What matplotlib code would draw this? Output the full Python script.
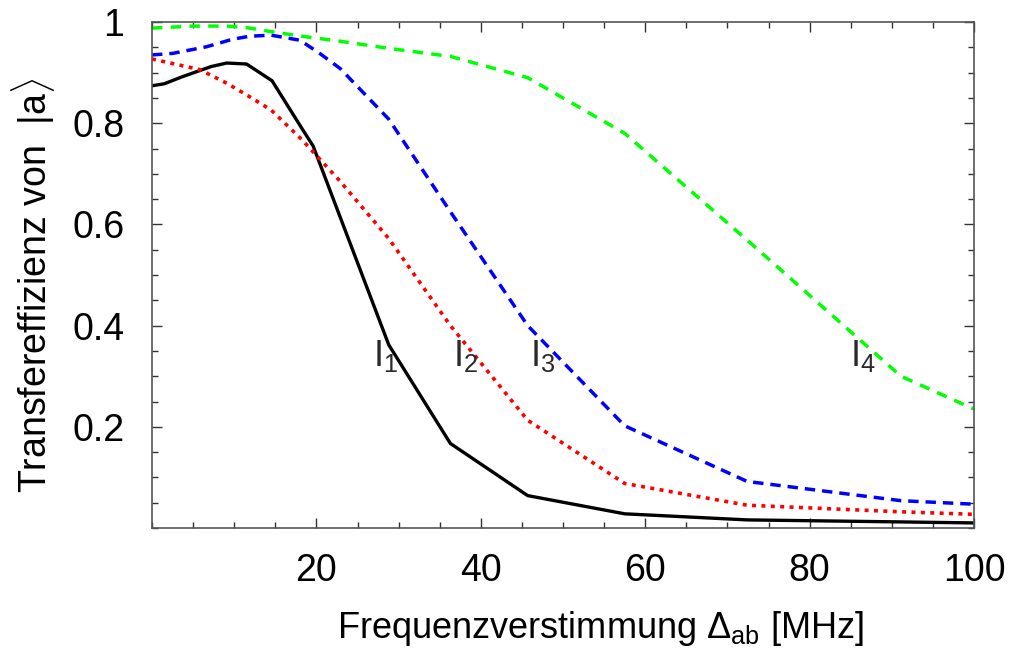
import matplotlib
matplotlib.use("Agg")
import matplotlib.pyplot as plt
from matplotlib.ticker import MultipleLocator, FixedLocator

plt.rcParams["font.family"] = ["Liberation Sans", "DejaVu Sans"]
plt.rcParams["mathtext.fontset"] = "custom"
plt.rcParams["mathtext.rm"] = "Liberation Sans"

# detuning samples [MHz]
x_i1 = [0, 1.5, 3.7, 7.2, 9.1, 11.5, 14.6, 18.3, 19.6, 28.8, 36.3, 45.7, 57.5, 72.4, 91.1, 100]
y_i1 = [0.874, 0.878, 0.892, 0.912, 0.919, 0.917, 0.884, 0.788, 0.755, 0.362, 0.167, 0.064, 0.028, 0.016, 0.012, 0.010]

x_i2 = [0, 2.5, 5.8, 9.1, 11.5, 14.5, 18.2, 22.9, 28.8, 36.3, 45.7, 57.5, 72.4, 91.1, 100]
y_i2 = [0.927, 0.918, 0.906, 0.879, 0.856, 0.826, 0.768, 0.685, 0.572, 0.400, 0.213, 0.088, 0.045, 0.032, 0.027]

x_i3 = [0, 2.5, 6.6, 9.8, 11.9, 14.5, 18.0, 20.4, 22.9, 28.8, 36.3, 45.7, 57.5, 72.4, 91.1, 100]
y_i3 = [0.935, 0.938, 0.951, 0.966, 0.972, 0.974, 0.964, 0.938, 0.908, 0.808, 0.625, 0.400, 0.202, 0.092, 0.054, 0.047]

x_i4 = [0, 5.0, 9.1, 11.5, 14.5, 18.2, 22.9, 28.8, 36.3, 45.7, 57.5, 72.4, 91.1, 100]
y_i4 = [0.988, 0.992, 0.992, 0.989, 0.981, 0.972, 0.962, 0.948, 0.932, 0.890, 0.780, 0.569, 0.300, 0.235]

labels = ["1", "2", "3", "4"]
label_x = [28.4, 38.1, 47.5, 86.5]
label_y = [0.34, 0.34, 0.34, 0.34]

fig = plt.figure(figsize=(10.1, 6.48), dpi=100)
ax = fig.add_axes([0.1505, 0.1852, 0.8139, 0.7808])

ax.plot(x_i1, y_i1, color="black", lw=2.4, solid_joinstyle="miter")
ax.plot(x_i2, y_i2, color="#ff0000", lw=2.6, dashes=(1.1, 1.5))
ax.plot(x_i3, y_i3, color="#0000ff", lw=2.5, dashes=(3.0, 2.0))
ax.plot(x_i4, y_i4, color="#00ff00", lw=2.5, dashes=(3.0, 2.4))

for s, lx, ly in zip(labels, label_x, label_y):
    ax.text(lx, ly, r"I$_{\mathrm{%s}}$" % s, fontsize=26, color="#2a2a2a",
            ha="center", va="center")

ax.set_xlim(0, 100)
ax.set_ylim(0, 1)
ax.xaxis.set_major_locator(FixedLocator([20, 40, 60, 80, 100]))
ax.xaxis.set_minor_locator(MultipleLocator(5))
ax.yaxis.set_major_locator(FixedLocator([0.2, 0.4, 0.6, 0.8, 1.0]))
ax.yaxis.set_minor_locator(MultipleLocator(0.05))
ax.set_yticklabels(["0.2", "0.4", "0.6", "0.8", "1"])

ax.tick_params(which="both", direction="in", top=True, right=True,
               color="#333333", labelsize=27, width=1)
ax.tick_params(which="major", length=7)
ax.tick_params(axis="x", which="major", pad=18)
ax.tick_params(axis="y", which="major", pad=20)
ax.tick_params(which="minor", length=4)
for sp in ax.spines.values():
    sp.set_color("#555555")
    sp.set_linewidth(1.2)

ax.set_xlabel(r"Frequenzverstimmung $\Delta_{\mathrm{ab}}$ [MHz]", fontsize=26)
ax.set_ylabel(r"Transfereffizienz von  $|\mathrm{a}\rangle$", fontsize=27)
ax.xaxis.set_label_coords(0.546, -0.16)
ax.yaxis.set_label_coords(-0.116, 0.48)

fig.savefig("out.png", dpi=100)
